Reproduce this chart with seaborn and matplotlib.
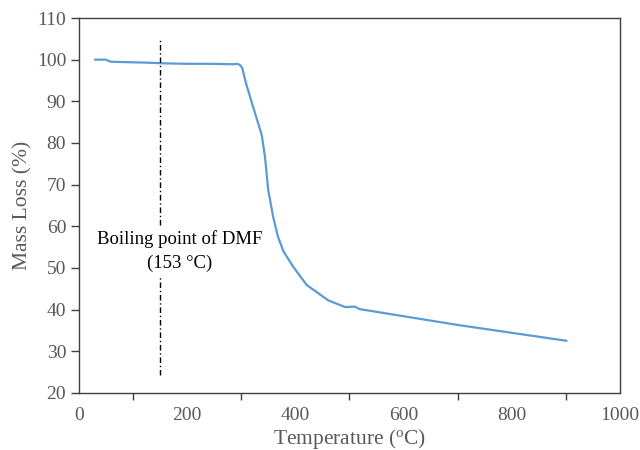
import matplotlib
matplotlib.use("Agg")
import matplotlib.pyplot as plt
import seaborn as sns
import pandas as pd
from matplotlib.ticker import MultipleLocator

# TGA curve: temperature (°C) vs remaining mass (%)
temperature = [30, 50, 55, 60, 88, 120, 162, 200, 242, 285, 293, 298, 302,
               309, 322, 338, 344, 350, 359, 368, 378, 396, 421, 461, 492,
               510, 519, 700, 901]
mass = [100.0, 100.0, 99.7, 99.5, 99.4, 99.3, 99.1, 99.0, 99.0, 98.9, 99.0,
        98.7, 98.0, 94.3, 88.7, 81.9, 76.7, 68.7, 62.3, 57.5, 54.0, 50.3,
        45.9, 42.2, 40.6, 40.7, 40.1, 36.3, 32.5]

# DMF boiling point marker
bp_temp = 150
bp_range = [24.3, 104.7]
bp_label = "Boiling point of DMF\n(153 °C)"

x_ticks = [0, 200, 400, 600, 800, 1000]
y_ticks = [20, 30, 40, 50, 60, 70, 80, 90, 100, 110]

sns.set_style("white")
plt.rcParams["font.family"] = ["Liberation Serif", "DejaVu Serif"]
plt.rcParams["mathtext.fontset"] = "custom"
plt.rcParams["mathtext.rm"] = "Liberation Serif"

df = pd.DataFrame({"Temperature": temperature, "Mass": mass})

fig = plt.figure(figsize=(6.4, 4.5), dpi=100)
ax = fig.add_axes([0.123, 0.127, 0.846, 0.833])

sns.lineplot(data=df, x="Temperature", y="Mass", ax=ax, color="#5B9BD5",
             linewidth=1.6)

ax.plot([bp_temp, bp_temp], bp_range, color="black", linestyle="-.",
        linewidth=1.0, dashes=(4, 2, 1, 2))
ax.text(186, 54.0, bp_label, ha="center", va="center", fontsize=13.5,
        color="black", linespacing=1.5,
        bbox=dict(facecolor="white", edgecolor="none", pad=3))

ax.set_xlim(0, 1000)
ax.set_ylim(20, 110)
ax.set_xticks(x_ticks)
ax.set_yticks(y_ticks)
ax.xaxis.set_minor_locator(MultipleLocator(100))

grey = "#595959"
ax.tick_params(axis="both", which="both", direction="out", color="#404040",
               labelcolor=grey, labelsize=14, width=1.0)
ax.tick_params(axis="x", which="major", length=5, pad=5)
ax.tick_params(axis="x", which="minor", length=5, bottom=True)
ax.tick_params(axis="y", which="major", length=6, left=True, pad=3)

for side in ["left", "right", "top", "bottom"]:
    ax.spines[side].set_visible(True)
    ax.spines[side].set_color("#404040")
    ax.spines[side].set_linewidth(1.0)

ax.set_xlabel("Temperature ($\\mathregular{^o}$C)", fontsize=15.5, color=grey,
              labelpad=2)
ax.set_ylabel("Mass Loss (%)", fontsize=15.5, color=grey, labelpad=3)

fig.savefig("out.png", dpi=100)
